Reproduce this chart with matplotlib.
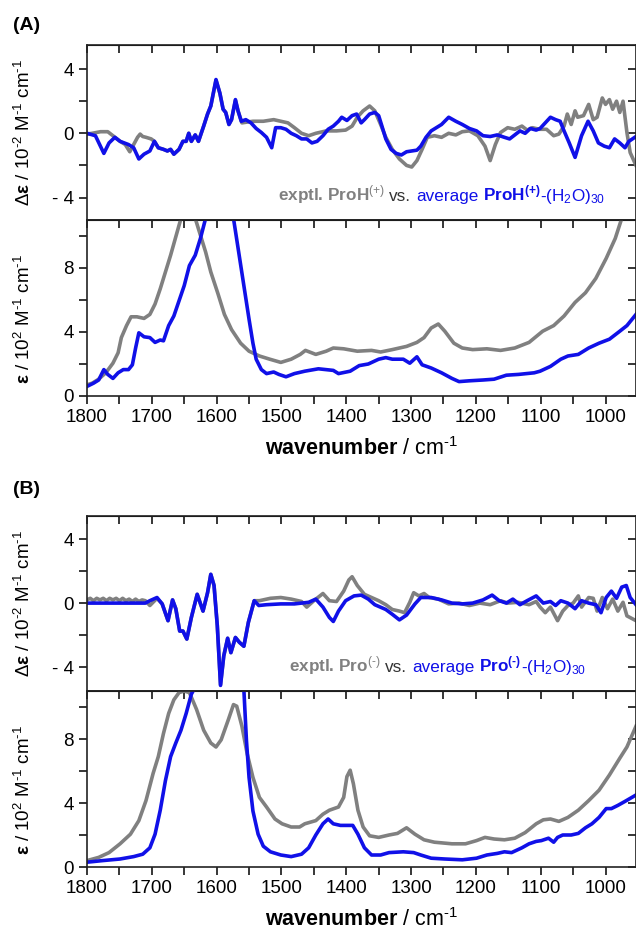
import matplotlib
matplotlib.use("Agg")
import matplotlib.pyplot as plt
from matplotlib import transforms
from matplotlib.ticker import MultipleLocator, FuncFormatter, NullFormatter

plt.rcParams['font.family'] = ['Liberation Sans', 'DejaVu Sans']
plt.rcParams['mathtext.fontset'] = 'custom'
plt.rcParams['mathtext.rm'] = 'Liberation Sans'
plt.rcParams['mathtext.it'] = 'Liberation Sans:italic'
plt.rcParams['mathtext.bf'] = 'Liberation Sans:bold'

# ---- data ----
# (A) ProH(+): delta epsilon, 10^-2 M^-1 cm^-1
a_dcalc_wn = [1800, 1787, 1774, 1766, 1757, 1749, 1736, 1728, 1720, 1712, 1703, 1696, 1690, 1682,
              1676, 1671, 1666, 1658, 1652, 1647, 1643, 1639, 1633, 1628, 1620, 1614, 1609, 1601,
              1595, 1590, 1586, 1581, 1577, 1571, 1567, 1562, 1555, 1547, 1539, 1531, 1523, 1515,
              1509, 1501, 1493, 1485, 1477, 1469, 1461, 1453, 1445, 1436, 1428, 1420, 1412, 1407,
              1399, 1391, 1384, 1377, 1372, 1364, 1356, 1350, 1345, 1339, 1331, 1323, 1315, 1307,
              1299, 1291, 1285, 1277, 1269, 1261, 1253, 1242, 1231, 1221, 1210, 1199, 1189, 1178,
              1167, 1156, 1148, 1140, 1132, 1124, 1116, 1107, 1101, 1093, 1085, 1077, 1070, 1064,
              1056, 1047, 1037, 1027, 1019, 1011, 1002, 994, 986, 978, 970, 964, 953]
a_dcalc = [0.0, -0.15, -1.25, -0.6, -0.25, -0.5, -0.7, -0.9, -1.6, -1.3, -1.1, -0.5, -0.9, -1.0,
           -1.1, -1.0, -1.3, -1.0, -0.5, -0.5, 0.0, -0.5, -0.1, -0.5, 0.45, 1.2, 1.7, 3.35,
           2.5, 1.5, 1.3, 0.55, 0.85, 2.1, 1.4, 0.75, 0.85, 0.65, 0.3, 0.05, -0.25, -0.9,
           0.35, 0.35, 0.25, 0.0, -0.15, -0.35, -0.35, -0.6, -0.5, -0.15, 0.25, 0.45, 0.75, 1.0,
           0.8, 1.1, 1.2, 0.65, 0.85, 1.2, 1.3, 1.1, 0.45, -0.35, -1.0, -1.25, -1.35, -1.15,
           -1.1, -1.05, -0.8, -0.25, 0.15, 0.35, 0.55, 1.0, 0.75, 0.55, 0.3, 0.15, -0.15, -0.2,
           -0.1, -0.25, -0.35, -0.1, 0.15, 0.0, 0.3, 0.2, 0.3, 0.65, 1.0, 0.85, 0.75, 0.15,
           -0.6, -1.5, -0.15, 0.75, 0.15, -0.6, -0.8, -0.9, -0.35, -0.6, -0.9, -0.5, -0.2]
# experimental trace; between ~1700 and ~1560 it lies under the calculated one
a_dexp_wn = [1800, 1792, 1779, 1768, 1760, 1749, 1741, 1734, 1728, 1722, 1718, 1714, 1709, 1701,
             1696, 1690, 1682, 1676, 1671, 1666, 1658, 1652, 1647, 1643, 1639, 1633, 1628, 1620,
             1614, 1609, 1601, 1595, 1590, 1586, 1581, 1577, 1571, 1567,
             1561, 1544, 1528, 1512, 1501, 1490, 1480, 1469, 1458, 1447,
             1431, 1415, 1401, 1391, 1383, 1374, 1364, 1356, 1347, 1339, 1329, 1318, 1307, 1299,
             1291, 1283, 1275, 1264, 1253, 1242, 1231, 1221, 1210, 1197, 1186, 1178, 1170, 1162,
             1151, 1140, 1129, 1121, 1113, 1102, 1091, 1080, 1072, 1064, 1059, 1053, 1047, 1043,
             1034, 1026, 1019, 1013, 1005, 1000, 994, 989, 983, 978, 973, 967, 962, 953]
a_dexp = [-0.05, 0.0, 0.1, 0.1, -0.15, -0.5, -0.7, -1.15, -0.7, -0.25, -0.05, -0.2, -0.25, -0.35,
          -0.5, -0.9, -1.0, -1.1, -1.0, -1.3, -1.0, -0.5, -0.5, 0.0, -0.5, -0.1, -0.5, 0.45,
          1.2, 1.7, 3.3, 2.5, 1.5, 1.3, 0.55, 0.85, 2.05, 1.4,
          0.65, 0.75, 0.75, 0.85, 0.75, 0.65, 0.35, 0.0, -0.15, 0.0,
          0.15, 0.15, 0.2, 0.45, 1.0, 1.4, 1.7, 1.4, 0.55, -0.25, -1.0, -1.6, -2.0, -2.1,
          -1.7, -1.0, -0.25, -0.15, -0.25, 0.0, -0.1, 0.1, 0.15, -0.15, -0.8, -1.7, -0.7, 0.05,
          0.35, 0.25, 0.45, 0.2, 0.35, 0.25, 0.25, -0.15, -0.05, 0.45, 1.2, 0.55, 1.4, 1.0,
          1.1, 1.8, 0.85, 1.0, 2.2, 1.8, 2.1, 1.5, 2.0, 1.3, 2.0, 0.05, -1.2, -2.0]

# (A) absorbance epsilon, 10^2 M^-1 cm^-1
a_calc_wn = [1800, 1790, 1782, 1774, 1768, 1760, 1752, 1744, 1736, 1730, 1725, 1720, 1712, 1703,
             1695, 1687, 1682, 1674, 1666, 1658, 1650, 1642, 1633, 1625, 1617, 1605, 1595, 1585,
             1574, 1566, 1558, 1550, 1544, 1539, 1531, 1523, 1512, 1504, 1493, 1480, 1464, 1443,
             1420, 1412, 1394, 1380, 1366, 1350, 1339, 1329, 1312, 1302, 1291, 1283, 1269, 1253,
             1237, 1226, 1210, 1189, 1172, 1153, 1134, 1110, 1101, 1085, 1069, 1058, 1042, 1026,
             1010, 994, 978, 967, 953]
a_calc = [0.6, 0.8, 1.0, 1.65, 1.35, 1.1, 1.45, 1.65, 1.65, 1.95, 3.0, 3.95, 3.7, 3.65,
          3.35, 3.5, 3.45, 4.4, 5.0, 5.95, 6.9, 8.15, 8.8, 9.85, 11.1, 15.0, 17.0, 15.0,
          11.1, 9.0, 6.9, 4.8, 3.3, 2.3, 1.65, 1.4, 1.5, 1.35, 1.2, 1.4, 1.55, 1.7,
          1.6, 1.4, 1.55, 1.9, 2.0, 2.3, 2.4, 2.3, 2.3, 2.05, 2.45, 1.95, 1.75, 1.45,
          1.1, 0.9, 0.95, 1.0, 1.05, 1.3, 1.35, 1.45, 1.55, 1.85, 2.3, 2.5, 2.6, 3.0,
          3.3, 3.55, 4.05, 4.4, 5.1]
a_exp_wn = [1800, 1792, 1782, 1771, 1760, 1752, 1747, 1739, 1732, 1723, 1712, 1703, 1695, 1687,
            1679, 1671, 1663, 1655, 1644, 1633, 1625, 1617, 1609, 1598, 1588, 1577, 1563, 1550,
            1534, 1518, 1501, 1485, 1471, 1463, 1447, 1431, 1420, 1404, 1383, 1361, 1347, 1329,
            1307, 1291, 1280, 1269, 1258, 1248, 1234, 1221, 1205, 1183, 1162, 1140, 1118, 1097,
            1080, 1064, 1047, 1031, 1015, 999, 985, 975, 953]
a_exp = [0.7, 0.8, 1.05, 1.45, 2.05, 2.7, 3.65, 4.4, 4.95, 4.95, 4.85, 5.1, 5.75, 6.7,
         7.75, 8.8, 9.95, 11.1, 12.5, 11.1, 10.05, 9.0, 7.75, 6.4, 5.1, 4.15, 3.3, 2.8,
         2.5, 2.3, 2.1, 2.3, 2.6, 2.85, 2.6, 2.8, 3.0, 2.95, 2.8, 2.85, 2.75, 2.9,
         3.1, 3.35, 3.65, 4.25, 4.5, 4.05, 3.3, 3.0, 2.9, 2.95, 2.85, 3.0, 3.35, 4.05,
         4.4, 5.0, 5.85, 6.45, 7.35, 8.6, 9.85, 11.1, 13.5]

# (B) Pro(-): delta epsilon
b_dcalc_wn = [1800, 1710, 1703, 1692, 1684, 1675, 1668, 1663, 1657, 1652, 1646, 1639, 1630, 1621,
              1614, 1609, 1604, 1599, 1594, 1589, 1583, 1578, 1571, 1565, 1558, 1551, 1542, 1535,
              1523, 1501, 1480, 1458, 1447, 1436, 1426, 1420, 1412, 1401, 1388, 1377, 1366, 1356,
              1339, 1329, 1318, 1307, 1294, 1285, 1269, 1253, 1237, 1221, 1205, 1189, 1175, 1164,
              1153, 1143, 1132, 1121, 1107, 1096, 1085, 1077, 1069, 1058, 1047, 1037, 1026, 1015,
              1007, 999, 991, 983, 975, 968, 962, 953]
b_dcalc = [0.0, 0.0, 0.15, 0.35, -0.05, -1.1, 0.2, -0.35, -1.75, -1.75, -2.25, -0.9, 0.55, -0.5,
           0.65, 1.8, 1.1, -1.4, -5.15, -3.3, -2.2, -3.1, -2.15, -2.45, -2.7, -1.2, 0.15, -0.15,
           -0.1, -0.05, -0.05, 0.05, 0.25, -0.25, -0.9, -1.15, -0.5, 0.15, 0.45, 0.5, 0.25, -0.1,
           -0.4, -0.7, -1.05, -0.75, -0.05, 0.35, 0.35, 0.2, 0.0, -0.05, 0.0, 0.2, 0.5, 0.15,
           0.0, 0.25, -0.1, 0.15, 0.45, 0.0, 0.1, -0.15, 0.15, 0.0, -0.35, 0.15, 0.0, -0.1,
           -0.6, 0.35, 0.75, 0.3, 1.0, 1.1, 0.35, -0.1]
# experimental trace; between ~1700 and ~1540 it lies under the calculated one
b_dexp_wn = [1800, 1795, 1790, 1785, 1780, 1775, 1770, 1765, 1760, 1755, 1750, 1745, 1740, 1735,
             1730, 1725, 1720, 1715, 1710, 1703, 1692, 1684, 1675, 1668, 1663, 1657, 1652, 1646,
             1639, 1630, 1621, 1614, 1609, 1604, 1599, 1594, 1589, 1583, 1578, 1571, 1565, 1558,
             1551, 1542, 1534, 1517, 1501, 1485,
             1469, 1461, 1450, 1436, 1426, 1415, 1404, 1396, 1391, 1383, 1372, 1361, 1350, 1339,
             1329, 1318, 1310, 1302, 1296, 1288, 1280, 1272, 1258, 1242, 1226, 1210, 1194, 1178,
             1162, 1151, 1135, 1118, 1107, 1101, 1093, 1085, 1074, 1066, 1058, 1050, 1042, 1037,
             1026, 1019, 1013, 1005, 997, 989, 981, 973, 967, 953]
b_dexp = [0.2, 0.3, 0.15, 0.3, 0.2, 0.3, 0.15, 0.3, 0.2, 0.3, 0.15, 0.3, 0.15, 0.25,
          0.1, 0.25, 0.1, 0.2, 0.15, -0.15, 0.3, -0.05, -1.1, 0.2, -0.35, -1.75, -1.75, -2.25,
          -0.9, 0.55, -0.5, 0.65, 1.8, 1.1, -1.4, -5.1, -3.3, -2.2, -3.1, -2.15, -2.45, -2.7,
          -1.2, 0.15, 0.15, 0.3, 0.35, 0.25,
          0.1, -0.25, 0.15, 0.6, 0.15, 0.1, 0.75, 1.45, 1.65, 1.1, 0.55, 0.35, 0.15, -0.1,
          -0.4, -0.5, -0.6, 0.05, 0.65, 0.45, 0.6, 0.35, 0.25, -0.05, 0.0, -0.15, 0.0, -0.1,
          0.15, 0.0, 0.05, -0.1, 0.1, -0.25, -0.6, -0.25, -1.1, -0.5, -0.15, 0.0, 0.45, -0.25,
          0.35, 0.3, -0.5, 0.35, -0.35, 0.25, -0.5, 0.05, -0.8, -1.1]

# (B) absorbance epsilon
b_calc_wn = [1800, 1776, 1749, 1728, 1714, 1703, 1695, 1687, 1679, 1671, 1663, 1655, 1647, 1639,
             1635, 1610, 1595, 1575, 1558, 1554, 1550, 1544, 1536, 1528, 1517, 1501, 1485, 1469,
             1458, 1447, 1436, 1428, 1420, 1409, 1390, 1382, 1372, 1361, 1347, 1334, 1312, 1296,
             1285, 1269, 1248, 1221, 1199, 1183, 1167, 1156, 1145, 1129, 1118, 1107, 1099, 1088,
             1080, 1074, 1066, 1053, 1042, 1031, 1021, 1010, 999, 991, 981, 970, 953]
b_calc = [0.3, 0.4, 0.5, 0.65, 0.8, 1.2, 2.05, 3.55, 5.4, 6.9, 7.75, 8.55, 9.6, 10.8,
          11.1, 16.0, 20.0, 16.0, 11.1, 7.9, 5.6, 3.5, 2.05, 1.3, 0.95, 0.75, 0.65, 0.8,
          1.2, 2.0, 2.7, 3.0, 2.7, 2.6, 2.6, 2.05, 1.2, 0.75, 0.75, 0.9, 0.95, 0.9,
          0.75, 0.55, 0.5, 0.45, 0.55, 0.75, 0.85, 0.95, 0.9, 1.2, 1.45, 1.6, 1.65, 1.8,
          1.55, 1.85, 2.0, 2.0, 2.1, 2.45, 2.7, 3.1, 3.65, 3.65, 3.85, 4.1, 4.5]
b_exp_wn = [1800, 1782, 1766, 1749, 1733, 1720, 1709, 1698, 1690, 1682, 1674, 1666, 1658, 1650,
            1642, 1631, 1620, 1609, 1601, 1593, 1582, 1574, 1569, 1561, 1553, 1544, 1534, 1523,
            1510, 1499, 1485, 1472, 1464, 1447, 1436, 1426, 1412, 1404, 1399, 1394, 1389, 1382,
            1374, 1364, 1350, 1334, 1321, 1307, 1294, 1280, 1264, 1237, 1216, 1199, 1186, 1172,
            1156, 1140, 1124, 1107, 1096, 1085, 1072, 1058, 1042, 1026, 1010, 994, 978, 967, 953]
b_exp = [0.4, 0.6, 0.9, 1.45, 2.05, 2.9, 4.15, 5.85, 6.9, 8.35, 9.6, 10.45, 10.9, 11.0,
         10.9, 9.85, 8.55, 7.75, 7.5, 7.95, 9.2, 10.15, 10.05, 8.8, 7.1, 5.6, 4.35, 3.75,
         3.0, 2.7, 2.5, 2.5, 2.7, 2.9, 3.3, 3.55, 3.75, 4.35, 5.65, 6.05, 5.2, 3.55,
         2.5, 1.95, 1.85, 2.0, 2.1, 2.45, 2.05, 1.7, 1.55, 1.45, 1.45, 1.65, 1.85, 1.75,
         1.7, 1.8, 2.15, 2.7, 2.95, 3.0, 2.85, 3.1, 3.55, 4.15, 4.8, 5.75, 6.8, 7.5, 8.8]

GREY = '#808080'
BLUE = '#1010e8'
DARK = '#333333'
LW = 2.6
HY = '\u2010'  # short hyphen for the charge signs, as in the original

fig = plt.figure(figsize=(6.36, 9.34), dpi=100)
L, W = 87 / 636, 549 / 636


def px_axes(top_px, bot_px):
    return fig.add_axes([L, 1 - bot_px / 934, W, (bot_px - top_px) / 934])


def ylab_fmt(v, pos):
    return '- %d' % abs(v) if v < 0 else '%d' % v


def style(ax, ylim, show_x):
    ax.set_xlim(1800, 953)
    ax.set_ylim(*ylim)
    ax.xaxis.set_major_locator(MultipleLocator(100))
    ax.xaxis.set_minor_locator(MultipleLocator(50))
    ax.yaxis.set_major_locator(MultipleLocator(4))
    ax.yaxis.set_minor_locator(MultipleLocator(2))
    ax.yaxis.set_major_formatter(FuncFormatter(ylab_fmt))
    ax.tick_params(which='both', direction='out', length=6, width=1.1, labelsize=13.5,
                   top=False, right=False, bottom=show_x, labelbottom=show_x)
    for sp in ax.spines.values():
        sp.set_linewidth(1.2)
        sp.set_color('#222222')
    top = ax.secondary_xaxis('top')
    top.xaxis.set_major_locator(MultipleLocator(100))
    top.xaxis.set_minor_locator(MultipleLocator(50))
    top.tick_params(which='both', direction='in', length=6, width=1.1, labelsize=0)
    top.xaxis.set_major_formatter(NullFormatter())
    right = ax.secondary_yaxis('right')
    right.yaxis.set_major_locator(MultipleLocator(4))
    right.yaxis.set_minor_locator(MultipleLocator(2))
    right.tick_params(which='both', direction='in', length=6, width=1.1, labelsize=0)
    right.yaxis.set_major_formatter(NullFormatter())
    if show_x:
        ax.set_xlabel(r'$\mathbf{wavenumber}$ / cm$^{%s1}$' % HY, fontsize=15.5, labelpad=8)


def rich_text(ax, x, y, pieces, size=12.3):
    renderer = fig.canvas.get_renderer()
    space = size * 0.278 * fig.dpi / 72
    dx = 0.0
    for s, color, weight, gap in pieces:
        tr = transforms.offset_copy(ax.transAxes, fig=fig, x=dx, y=0, units='dots')
        t = ax.text(x, y, s, transform=tr, color=color, fontweight=weight,
                    fontsize=size, va='baseline', ha='left')
        dx += t.get_window_extent(renderer).width + (space if gap else 0)


panels = [
    (45, 220, 396, a_dexp_wn, a_dexp, a_dcalc_wn, a_dcalc, a_exp_wn, a_exp, a_calc_wn, a_calc,
     (-5.4, 5.5), '(A)', 25, 'ProH', '(+)', 0.347),
    (516, 691, 867, b_dexp_wn, b_dexp, b_dcalc_wn, b_dcalc, b_exp_wn, b_exp, b_calc_wn, b_calc,
     (-5.5, 5.45), '(B)', 490, 'Pro', '(%s)' % HY, 0.368),
]

for (t0, t1, t2, dxw, dxv, dcw, dcv, exw, exv, cw, cv, dlim, tag, tag_y,
     name, charge, txt_x) in panels:
    ax1 = px_axes(t0, t1)
    ax2 = px_axes(t1, t2)
    ax1.plot(dxw, dxv, color=GREY, lw=LW, solid_joinstyle='round')
    ax1.plot(dcw, dcv, color=BLUE, lw=LW, solid_joinstyle='round')
    ax2.plot(exw, exv, color=GREY, lw=LW, solid_joinstyle='round')
    ax2.plot(cw, cv, color=BLUE, lw=LW, solid_joinstyle='round')
    style(ax1, dlim, False)
    style(ax2, (0, 11), True)
    ax1.set_ylabel(r'$\Delta\mathbf{ε}$ / 10$^{%s2}$ M$^{%s1}$ cm$^{%s1}$' % (HY, HY, HY),
                   fontsize=13.5)
    ax2.set_ylabel(r'$\mathbf{ε}$ / 10$^{2}$ M$^{%s1}$ cm$^{%s1}$' % (HY, HY), fontsize=13.5)
    ax1.yaxis.set_label_coords(-0.097, 0.5)
    ax2.yaxis.set_label_coords(-0.097, 0.44)
    fig.text(13 / 636, 1 - tag_y / 934, tag, fontsize=14, fontweight='bold', va='center')
    rich_text(ax1, txt_x, 0.11, [
        ('exptl. %s$^{%s}$' % (name, charge), GREY, 'bold', True),
        ('vs.', DARK, 'normal', True),
        ('average', BLUE, 'normal', True),
        (r'%s$^{\mathbf{%s}}$' % (name, charge), BLUE, 'bold', False),
        ('-(H$_2$O)$_{30}$', BLUE, 'normal', False),
    ])

fig.savefig('out.png', dpi=100)
